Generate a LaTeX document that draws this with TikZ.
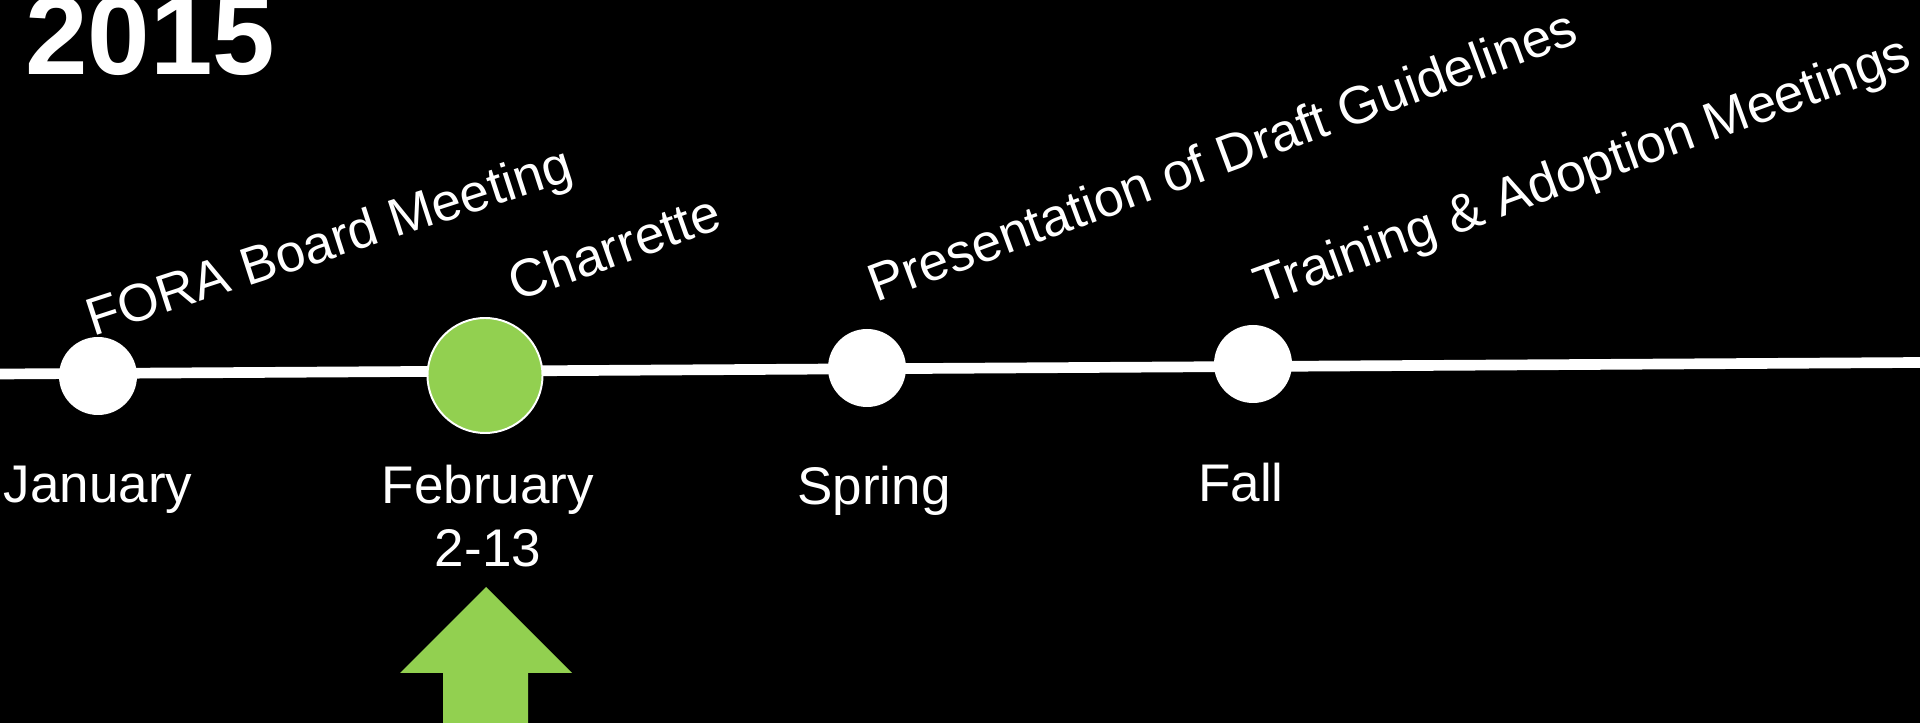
\documentclass[tikz,border=0pt]{standalone}
\usepackage{fontspec}
\setmainfont{Liberation Sans}
\definecolor{lgreen}{RGB}{146,208,80}

\begin{document}
\begin{tikzpicture}[
  dot/.style={circle, fill=white, inner sep=0pt, minimum size=1.95cm},
  bigdot/.style={circle, fill=lgreen, draw=white, line width=1.4pt, inner sep=0pt, minimum size=2.875cm},
  when/.style={text=white, anchor=base, align=center, inner sep=0pt, font=\fontsize{37.7}{45.5}\selectfont},
  event/.style={text=white, anchor=base west, inner sep=0pt, font=\fontsize{37.7}{45.5}\selectfont},
  tline/.style={white, line width=7.6pt}
]
  % Background
  \fill[black] (0,0) rectangle (48,18.075);
  \useasboundingbox (0,0) rectangle (48,18.075);

  % Year
  \node[text=white, anchor=base west, inner sep=0pt, font=\fontsize{80}{90}\selectfont\bfseries] (year) at (0.62,16.2) {2015};

  % Timeline
  \coordinate (lstart) at (0,8.725);
  \coordinate (lend) at (48,9.0125);
  \draw[tline] (lstart) -- (lend);

  % Milestones
  \node[dot] (jan) at (2.45,8.675) {};
  \node[bigdot] (feb) at (12.125,8.6875) {};
  \node[dot] (spring) at (21.675,8.875) {};
  \node[dot] (fall) at (31.325,8.975) {};

  % Dates
  \node[when] (janlbl) at (2.45,5.5) {January};
  \node[when] (feblbl) at (12.2,3.9) {February\\2-13};
  \node[when] (springlbl) at (21.85,5.45) {Spring};
  \node[when] (falllbl) at (31.025,5.525) {Fall};

  % Events
  \node[event, rotate=18] (fora) at (2.33,9.67) {FORA Board Meeting};
  \node[event, rotate=19.5] (charrette) at (12.9,10.525) {Charrette};
  \node[event, rotate=20.3] (draft) at (21.9,10.5) {Presentation of Draft Guidelines};
  \node[event, rotate=20] (training) at (31.55,10.45) {Training \& Adoption Meetings};

  % Pointer
  \fill[lgreen] (12.15,3.4) -- (14.3,1.25) -- (13.2,1.25) -- (13.2,0)
    -- (11.075,0) -- (11.075,1.25) -- (10.0,1.25) -- cycle;
\end{tikzpicture}
\end{document}
